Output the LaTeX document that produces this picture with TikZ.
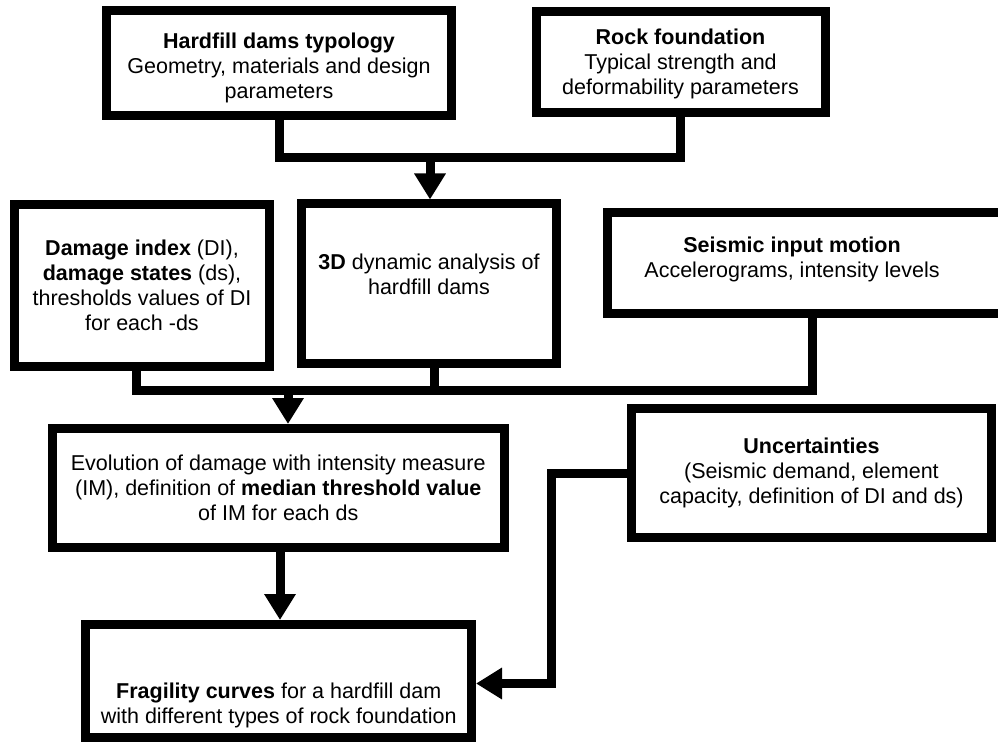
\documentclass[tikz,border=0pt]{standalone}
\usepackage{fontspec}
\setmainfont{Liberation Sans}
\usetikzlibrary{arrows.meta}
\begin{document}
\begin{tikzpicture}[x=1pt,y=-1pt,
  box/.style={draw=black, line width=9pt, fill=white, inner sep=0pt, line join=miter},
  txt/.style={align=center, inner sep=0pt, font=\fontsize{21.5}{25}\selectfont},
  conn/.style={line width=9pt, line join=miter, draw=black},
  arr/.style={conn, -{Triangle[length=26pt, width=30pt]}}]
\useasboundingbox (0,0) rectangle (998,746);
\clip (0,0) rectangle (998,746);

% boxes
\node[box, minimum width=345pt, minimum height=105pt] (b1) at (279,63) {};
\node[txt] (b1t) at (279,67.5)
  {\textbf{Hardfill dams typology}\\Geometry, materials and design\\parameters};
\node[box, minimum width=289pt, minimum height=101pt] (b2) at (680.5,62.3) {};
\node[txt] (b2t) at (680.5,63.5)
  {\textbf{Rock foundation}\\Typical strength and\\deformability parameters};
\node[box, txt, minimum width=255pt, minimum height=161.5pt] (b4) at (142,285.25)
  {\textbf{Damage index} (DI),\\\textbf{damage states} (ds),\\thresholds values of DI\\for each -ds};
\node[box, minimum width=255pt, minimum height=159.5pt] (b3) at (429,283.75) {};
\node[txt] (b3t) at (429,274) {\textbf{3D} dynamic analysis of\\hardfill dams};
\node[box, minimum width=410pt, minimum height=101pt] (b5) at (812.5,263) {};
\node[txt] (b5t) at (792,259.5) {\textbf{Seismic input motion}\\Accelerograms, intensity levels};
\node[box, txt, minimum width=451.5pt, minimum height=119pt] (b6) at (278.25,488)
  {Evolution of damage with intensity measure\\(IM), definition of \textbf{median threshold value}\\of IM for each ds};
\node[box, txt, minimum width=360pt, minimum height=129pt] (b7) at (811.5,473)
  {\textbf{Uncertainties}\\(Seismic demand, element\\capacity, definition of DI and ds)};
\node[box, minimum width=385.6pt, minimum height=112.5pt] (b8) at (278.7,680.75) {};
\node[txt] (b8t) at (278.7,705) {\textbf{Fragility curves} for a hardfill dam\\with different types of rock foundation};

% junctions
\coordinate (j1) at (430,158);
\coordinate (j2) at (288,390.5);
\coordinate (j3) at (434.5,390.5);
\coordinate (j4) at (280,0);
\coordinate (j5) at (551.5,683.5);

% connectors
\draw[conn] (b1.south) |- (j1) -| (b2.south);
\draw[arr] (j1) -- (j1 |- b3.north);
\draw[conn] ([xshift=-6pt]b4.south) |- (j2) -| (b5.south);
\draw[conn] (b3.south -| j3) -- (j3);
\draw[arr] (j2) -- (j2 |- b6.north);
\draw[arr] (b6.south -| j4) -- (b8.north -| j4);
\draw[arr] (b7.west) -| (j5) -- (j5 -| b8.east);
\end{tikzpicture}
\end{document}
